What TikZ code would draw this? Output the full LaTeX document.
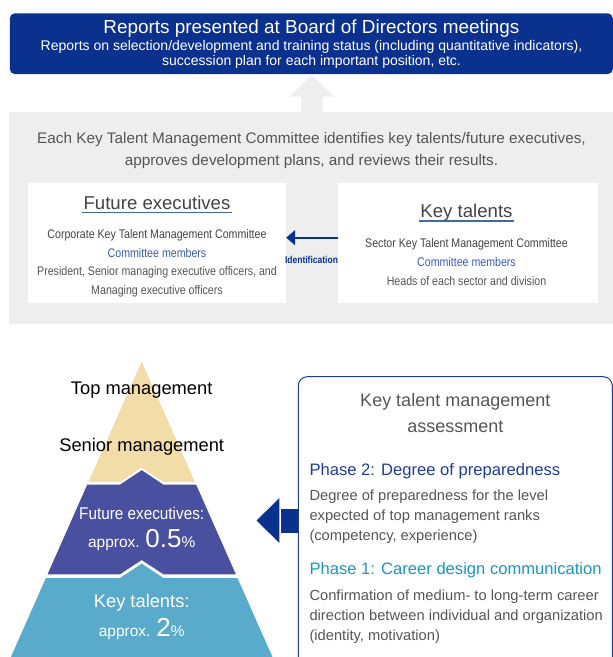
\documentclass[tikz,border=0pt]{standalone}
\usepackage{fontspec}
\setmainfont{Liberation Sans}
\newfontfamily\condfont[FakeStretch=0.85]{Liberation Sans}
\newfontfamily\pyrfont[FakeStretch=0.9]{Liberation Sans}
\usetikzlibrary{arrows.meta}
\definecolor{navy}{HTML}{0B318F}
\definecolor{bgGray}{HTML}{EEEEEE}
\definecolor{txtGray}{HTML}{555555}
\definecolor{darkTxt}{HTML}{444444}
\definecolor{memBlue}{HTML}{3A5BB5}
\definecolor{ulBlue}{HTML}{4466B0}
\definecolor{pyrBeige}{HTML}{F2DCA7}
\definecolor{pyrPurple}{HTML}{4A50A0}
\definecolor{pyrTeal}{HTML}{59AACB}
\definecolor{phTwo}{HTML}{1F3E9A}
\definecolor{phOne}{HTML}{1A96C4}
\definecolor{boxBorder}{HTML}{1C3C8E}
\newcommand\fsz[1]{\fontsize{#1pt}{#1pt}\selectfont}
\begin{document}
\begin{tikzpicture}[x=1pt,y=-1pt,
  txt/.style={inner sep=0pt, anchor=base},
  ltxt/.style={inner sep=0pt, anchor=base west},
  whitebox/.style={fill=white, inner sep=0pt, minimum width=258pt, minimum height=120pt},
  idarrow/.style={draw=navy, line width=1.8pt, -{Triangle[length=9pt,width=15pt]}},
  ul/.style={draw=ulBlue, line width=1.3pt}]
\useasboundingbox (0,0) rectangle (613,657);

% gray committee panel and upward arrow
\node[fill=bgGray, inner sep=0pt, minimum width=604pt, minimum height=212pt] (gbox) at (311,218) {};
\fill[bgGray] (301,112.5) -- (301,96.7) -- (289.3,96.7) -- (311.8,75) -- (334.3,96.7) -- (322.5,96.7) -- (322.5,112.5) -- cycle;

% top board box
\node[fill=navy, rounded corners=5pt, inner sep=0pt, minimum width=603pt, minimum height=60.7pt] (top) at (311.3,43.7) {};
\node[txt, text=white] (t1) at (311.5,33.7) {\fsz{18.9}Reports presented at Board of Directors meetings};
\node[txt, text=white] (t2) at (311.5,50.5) {\fsz{14}Reports on selection/development and training status (including quantitative indicators),};
\node[txt, text=white] (t3) at (311.5,65) {\fsz{14}succession plan for each important position, etc.};

% gray panel text
\node[txt, text=txtGray] (g1) at (311.5,143) {\fsz{15.3}Each Key Talent Management Committee identifies key talents/future executives,};
\node[txt, text=txtGray] (g2) at (311.5,165) {\fsz{15.3}approves development plans, and reviews their results.};

% white boxes
\node[whitebox] (lb) at (157,243) {};
\node[whitebox, minimum width=260pt] (rb) at (468,243) {};

\node[txt, text=darkTxt, inner xsep=1.5pt] (fe) at (157,209.4) {\fsz{18.6}Future executives};
\draw[ul] ([yshift=-2.8pt]fe.base west) -- ([yshift=-2.8pt]fe.base east);
\node[txt, text=darkTxt] (c1) at (157,238.4) {\condfont\fsz{12.5}Corporate Key Talent Management Committee};
\node[txt, text=memBlue] (c2) at (157,257.4) {\condfont\fsz{12.5}Committee members};
\node[txt, text=txtGray] (c3) at (157,275.8) {\condfont\fsz{12.5}President, Senior managing executive officers, and};
\node[txt, text=txtGray] (c4) at (157,294.1) {\condfont\fsz{12.5}Managing executive officers};

\node[txt, text=darkTxt, inner xsep=1.5pt] (kt) at (466.5,217.8) {\fsz{18.6}Key talents};
\draw[ul] ([yshift=-3.2pt]kt.base west) -- ([yshift=-3.2pt]kt.base east);
\node[txt, text=darkTxt] (s1) at (466.5,247.4) {\condfont\fsz{12.5}Sector Key Talent Management Committee};
\node[txt, text=memBlue] (s2) at (466.5,266.4) {\condfont\fsz{12.5}Committee members};
\node[txt, text=txtGray] (s3) at (466.5,285.8) {\condfont\fsz{12.5}Heads of each sector and division};

\draw[idarrow] ([yshift=5.3pt]rb.west) -- ([yshift=5.3pt]lb.east);
\node[txt, text=navy] (idl) at (311.5,263.5) {\condfont\bfseries\fsz{10}Identification};

% pyramid
\begin{scope}
\clip (141.7,361.7) -- (273.8,660) -- (9.6,660) -- cycle;
\fill[pyrBeige] (0,350) -- (300,350) -- (300,482) -- (163.5,482) -- (141.7,467.5) -- (119.9,482) -- (0,482) -- cycle;
\fill[pyrPurple] (0,484.7) -- (119.9,484.7) -- (141.7,470.2) -- (163.5,484.7) -- (300,484.7) -- (300,574.3) -- (163.5,574.3) -- (141.7,560) -- (119.9,574.3) -- (0,574.3) -- cycle;
\fill[pyrTeal] (0,578) -- (119.9,578) -- (141.7,563.7) -- (163.5,578) -- (300,578) -- (300,660) -- (0,660) -- cycle;
\end{scope}
\node[txt, text=black] (tm) at (141.7,394) {\fsz{18.3}Top management};
\node[txt, text=black] (sm) at (141.7,451) {\fsz{18.3}Senior management};
\node[txt, text=white] (pfe) at (141.7,519) {\pyrfont\fsz{17}Future executives:};
\node[txt, text=white] (pfp) at (141.7,547.7) {\fsz{15.5}approx. {\fsz{26}0.5}\%};
\node[txt, text=white] (pkt) at (141.7,607.7) {\fsz{18.3}Key talents:};
\node[txt, text=white] (pkp) at (141.7,636.7) {\fsz{15.5}approx. {\fsz{26}2}\%};

% big arrow from assessment box
\fill[navy] (256.7,520.5) -- (279.3,498) -- (279.3,543) -- cycle;
\fill[navy] (280.6,508.5) rectangle (298.8,532.5);

% assessment box
\draw[boxBorder, line width=1pt, rounded corners=9pt] (298.3,670) -- (298.3,376.7) -- (612.3,376.7) -- (612.3,670);
\node[txt, text=txtGray] (a1) at (455.3,406.7) {\fsz{18}Key talent management};
\node[txt, text=txtGray] (a2) at (455.3,432.7) {\fsz{18}assessment};
\node[ltxt, text=phTwo] (p2) at (309.3,475) {\fsz{16.6}Phase 2: Degree of preparedness};
\node[ltxt, text=txtGray] (p2a) at (309.3,500) {\fsz{14.7}Degree of preparedness for the level};
\node[ltxt, text=txtGray] (p2b) at (309.3,520.7) {\fsz{14.7}expected of top management ranks};
\node[ltxt, text=txtGray] (p2c) at (309.3,540.7) {\fsz{14.7}(competency, experience)};
\node[ltxt, text=phOne] (p1) at (309.3,574) {\fsz{16.6}Phase 1: Career design communication};
\node[ltxt, text=txtGray] (p1a) at (309.3,600) {\fsz{14.7}Confirmation of medium- to long-term career};
\node[ltxt, text=txtGray] (p1b) at (309.3,620.7) {\fsz{14.7}direction between individual and organization};
\node[ltxt, text=txtGray] (p1c) at (309.3,640.7) {\fsz{14.7}(identity, motivation)};
\end{tikzpicture}
\end{document}
